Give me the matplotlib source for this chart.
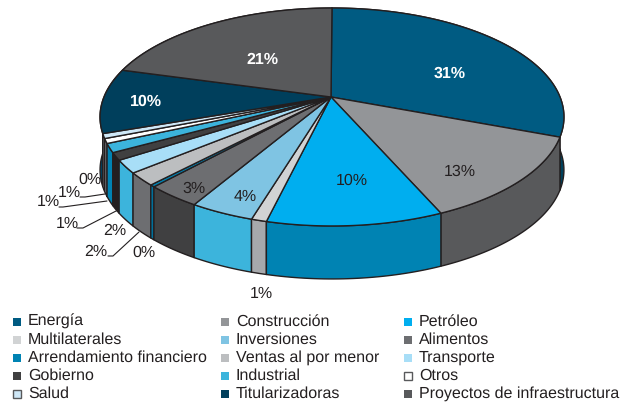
#!/usr/bin/env python3
"""3D-looking pie of sector shares, with a perspective top face and a rim."""
import numpy as np
import matplotlib
matplotlib.use('Agg')
import matplotlib.pyplot as plt
from matplotlib.patches import Polygon, Rectangle

plt.rcParams['font.family'] = ['Liberation Sans', 'DejaVu Sans']
plt.rcParams['text.hinting'] = 'none'

sectors = ['Energía', 'Construcción', 'Petróleo', 'Multilaterales', 'Inversiones',
           'Alimentos', 'Arrendamiento financiero', 'Ventas al por menor', 'Transporte',
           'Gobierno', 'Industrial', 'Otros', 'Salud', 'Titularizadoras',
           'Proyectos de infraestructura']
shares = [30.8, 12.7, 10.3, 0.9, 3.8, 3.3, 0.3, 1.9, 1.9, 1.1, 1.3, 0.7, 0.7, 9.6, 20.7]
labels = ['31%', '13%', '10%', '1%', '4%', '3%', '0%', '2%', '2%', '1%', '1%', '1%', '0%', '10%', '21%']
top_colors = ['#005b82', '#939598', '#00aeef', '#d1d3d4', '#7fc4e3', '#6d6e71', '#0083b3',
              '#bcbec0', '#a8def7', '#404041', '#3cb4dc', '#ffffff', '#cfe8f7', '#003f5c', '#58595b']
side_colors = ['#00415c', '#58595b', '#0083b3', '#a7a9ac', '#3cb4dc', '#404041', '#006f9a',
               '#6d6e71', '#3cb4dc', '#231f20', '#0083b3', '#808285', '#6d6e71', '#003f5c', '#404041']

APEX = (331, 97)
CX, CY = 332, 97
A, B, K = 228, 105.3, 0.1834
DEPTH = 53
EDGE = '#231f20'

def project(theta):
    # circle to screen, the near side is drawn bigger
    u, v = np.sin(theta), -np.cos(theta)
    w = 1 - K * v
    return CX + A * u / w, CY + B * v / w

fig = plt.figure(figsize=(6.32, 4.04), dpi=100)
ax = fig.add_axes([0, 0, 1, 1])
ax.set_xlim(0, 632); ax.set_ylim(404, 0); ax.axis('off')

edges = np.cumsum([0] + shares) / sum(shares) * 2 * np.pi
arcs = [np.linspace(a, b, max(3, int((b - a) * 60))) for a, b in zip(edges[:-1], edges[1:])]

# rim first, back to front
order = sorted(range(len(shares)), key=lambda j: project((edges[j] + edges[j + 1]) / 2)[1])
for i in order:
    x, y = project(arcs[i])
    ax.add_patch(Polygon(np.r_[np.c_[x, y], np.c_[x, y + DEPTH][::-1]], closed=True,
                         fc=side_colors[i], ec=EDGE, lw=1.0, joinstyle='round'))
for i in range(len(shares)):
    x, y = project(arcs[i])
    ax.add_patch(Polygon(np.r_[[APEX], np.c_[x, y]], closed=True,
                         fc=top_colors[i], ec=EDGE, lw=1.0, joinstyle='round'))

# labels inside the top face
inner = {0: (450, 74), 1: (460, 172), 2: (352, 181), 4: (245, 197), 5: (194, 189),
         13: (146, 102), 14: (262, 60)}
white = {0, 13, 14}
for i, (x, y) in inner.items():
    ax.text(x, y, labels[i], ha='center', va='center', fontsize=11.5,
            color='white' if i in white else '#231f20', fontweight='bold' if i in white else 'normal')
# labels outside the pie, some with a leader line
outer = {3: (261, 294), 6: (144, 253), 7: (96, 252), 8: (115, 231), 9: (67, 224),
         10: (48, 202), 11: (69, 193), 12: (90, 180)}
for i, (x, y) in outer.items():
    ax.text(x, y, labels[i], ha='center', va='center', fontsize=11.5, color='#231f20')
leaders = [[(108, 256), (113, 256), (139, 232)], [(77, 228), (83, 228), (118, 210)],
           [(59, 207), (63, 207), (107, 201)], [(80, 197), (85, 197), (105, 194)]]
for pts in leaders:
    ax.plot(*zip(*pts), color=EDGE, lw=0.8, solid_capstyle='round')

# legend, 3 columns and 5 rows
col_x = [14, 222, 405]
row_y = [321.5, 339.5, 357.5, 375.5, 393.5]
for i, name in enumerate(sectors):
    x, y = col_x[i % 3], row_y[i // 3]
    ax.add_patch(Rectangle((x - 1, y - 4), 8, 8, fc=top_colors[i],
                           ec='#58595b' if top_colors[i] in ('#ffffff', '#cfe8f7') else 'none', lw=1))
    ax.text(x + 14, y, name, ha='left', va='center', fontsize=11.5, color='#231f20')

fig.savefig('out.png', dpi=100)
